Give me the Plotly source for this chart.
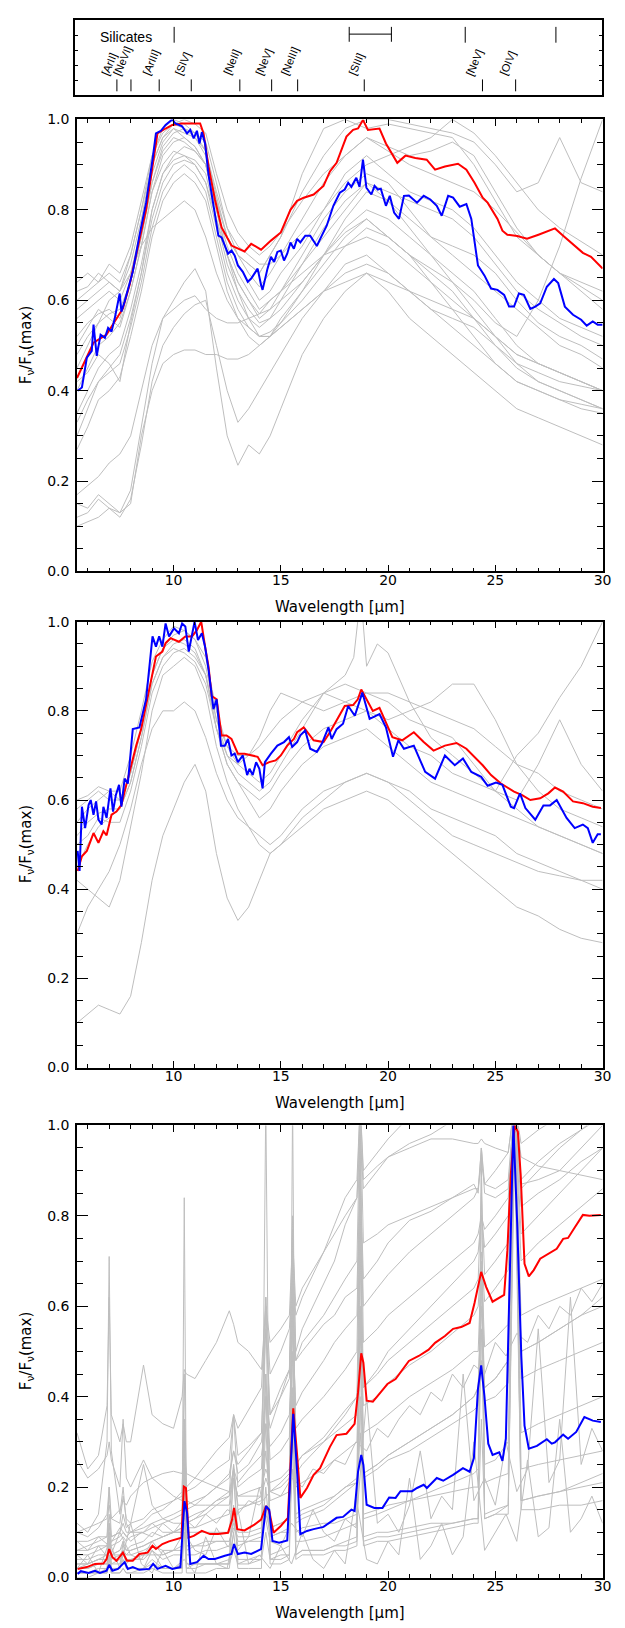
import plotly.graph_objects as go

W, H = 625, 1628

# ---------------- top box: line identifications ----------------
line_names = ["[ArII]", "[NeVI]", "[ArIII]", "[SIV]", "[NeII]", "[NeV]", "[NeIII]", "[SIII]", "[NeV]", "[OIV]"]
line_waves = [6.985, 7.652, 8.991, 10.511, 12.814, 14.322, 15.555, 18.713, 24.318, 25.890]
sil_label = "Silicates"
sil_ticks = [9.7, 23.5, 27.8]
sil_band = [18.0, 20.0]

# ---------------- panels 1 & 2: common grid for gray spectra ----------------
wl = [5.5, 6, 6.5, 7, 7.5, 8, 8.5, 9, 9.5, 10, 10.5, 11, 11.5, 12, 12.5, 13, 13.5, 14, 14.5, 15,
      16, 17, 18, 19, 20, 21, 22, 23, 24, 25, 26, 27, 28, 29, 30]

p1_gray = [
    [0.58,0.60,0.62,0.64,0.62,0.70,0.80,0.92,0.98,1.00,0.99,0.97,0.93,0.83,0.74,0.70,0.68,0.66,0.70,0.74,0.88,0.98,1.00,0.98,0.99,0.98,0.97,0.96,0.90,0.82,0.74,0.70,0.66,0.63,0.60],
    [0.52,0.55,0.57,0.58,0.56,0.64,0.74,0.86,0.94,0.97,0.98,0.97,0.95,0.86,0.76,0.70,0.66,0.63,0.66,0.70,0.78,0.86,0.92,0.96,0.94,0.92,0.93,0.95,0.92,0.84,0.76,0.70,0.66,0.62,0.58],
    [0.62,0.63,0.66,0.64,0.62,0.68,0.78,0.90,0.96,0.98,0.96,0.94,0.90,0.80,0.72,0.66,0.62,0.58,0.60,0.62,0.68,0.74,0.80,0.86,0.84,0.82,0.80,0.78,0.74,0.68,0.62,0.58,0.55,0.52,0.50],
    [0.48,0.52,0.55,0.57,0.58,0.64,0.74,0.86,0.93,0.96,0.95,0.93,0.90,0.80,0.70,0.64,0.60,0.57,0.58,0.60,0.64,0.70,0.75,0.78,0.74,0.70,0.67,0.64,0.60,0.55,0.52,0.60,0.72,0.87,1.00],
    [0.56,0.58,0.60,0.62,0.60,0.66,0.76,0.88,0.95,0.98,0.97,0.96,0.92,0.82,0.74,0.70,0.68,0.66,0.70,0.74,0.84,0.92,0.98,1.00,1.00,0.99,0.98,0.97,0.95,0.90,0.84,0.86,0.96,0.86,0.84],
    [0.40,0.45,0.50,0.52,0.55,0.62,0.72,0.84,0.90,0.93,0.92,0.90,0.86,0.78,0.70,0.64,0.60,0.56,0.58,0.62,0.70,0.78,0.84,0.88,0.86,0.80,0.74,0.70,0.66,0.62,0.58,0.54,0.50,0.48,0.45],
    [0.35,0.40,0.45,0.48,0.50,0.58,0.68,0.80,0.88,0.91,0.92,0.91,0.88,0.78,0.68,0.62,0.58,0.55,0.56,0.58,0.64,0.70,0.76,0.80,0.78,0.74,0.70,0.66,0.62,0.56,0.50,0.46,0.44,0.42,0.40],
    [0.30,0.36,0.42,0.44,0.46,0.54,0.64,0.76,0.84,0.88,0.90,0.88,0.84,0.74,0.64,0.58,0.54,0.52,0.53,0.55,0.60,0.66,0.72,0.76,0.74,0.70,0.66,0.62,0.56,0.50,0.45,0.42,0.40,0.38,0.36],
    [0.45,0.50,0.55,0.60,0.62,0.66,0.72,0.76,0.78,0.80,0.82,0.80,0.74,0.66,0.60,0.56,0.54,0.52,0.52,0.54,0.58,0.62,0.66,0.68,0.66,0.62,0.58,0.56,0.54,0.50,0.46,0.44,0.42,0.41,0.40],
    [0.15,0.14,0.17,0.15,0.13,0.18,0.32,0.46,0.56,0.60,0.64,0.67,0.62,0.45,0.30,0.235,0.28,0.26,0.30,0.36,0.48,0.56,0.62,0.66,0.62,0.56,0.52,0.48,0.44,0.40,0.36,0.34,0.32,0.30,0.28],
    [0.12,0.13,0.16,0.14,0.12,0.16,0.28,0.42,0.50,0.54,0.57,0.59,0.60,0.50,0.40,0.33,0.36,0.40,0.44,0.48,0.56,0.62,0.68,0.70,0.66,0.62,0.58,0.54,0.50,0.46,0.42,0.40,0.38,0.36,0.35],
    [0.10,0.11,0.12,0.14,0.13,0.15,0.30,0.40,0.46,0.48,0.49,0.49,0.48,0.48,0.47,0.47,0.48,0.50,0.52,0.54,0.58,0.62,0.64,0.66,0.64,0.62,0.60,0.58,0.56,0.52,0.48,0.46,0.44,0.42,0.40],
    [0.17,0.19,0.21,0.24,0.26,0.30,0.40,0.50,0.56,0.58,0.60,0.61,0.58,0.56,0.55,0.55,0.56,0.57,0.60,0.62,0.66,0.70,0.72,0.74,0.72,0.68,0.64,0.60,0.56,0.52,0.48,0.46,0.44,0.42,0.40],
    [0.42,0.44,0.48,0.46,0.42,0.55,0.66,0.80,0.88,0.92,0.94,0.93,0.90,0.80,0.70,0.62,0.56,0.52,0.52,0.55,0.62,0.70,0.78,0.84,0.82,0.78,0.74,0.72,0.70,0.66,0.60,0.55,0.52,0.50,0.47],
    [0.60,0.62,0.64,0.68,0.66,0.72,0.82,0.92,0.97,0.99,0.98,0.96,0.93,0.84,0.76,0.72,0.70,0.68,0.68,0.70,0.75,0.80,0.86,0.90,0.92,0.94,0.96,1.00,0.97,0.92,0.86,0.80,0.76,0.73,0.70],
    [0.50,0.54,0.58,0.56,0.54,0.62,0.72,0.84,0.92,0.95,0.96,0.94,0.90,0.82,0.74,0.68,0.64,0.60,0.62,0.66,0.72,0.80,0.88,0.92,0.88,0.84,0.82,0.80,0.76,0.70,0.64,0.60,0.56,0.54,0.52],
    [0.33,0.38,0.42,0.45,0.48,0.56,0.66,0.78,0.86,0.90,0.91,0.90,0.86,0.76,0.66,0.60,0.56,0.54,0.56,0.60,0.68,0.76,0.82,0.86,0.82,0.76,0.70,0.64,0.58,0.52,0.46,0.42,0.40,0.38,0.36],
    [0.27,0.32,0.38,0.40,0.43,0.52,0.62,0.74,0.82,0.86,0.88,0.86,0.82,0.72,0.62,0.56,0.52,0.50,0.52,0.56,0.62,0.68,0.74,0.78,0.74,0.70,0.64,0.58,0.52,0.46,0.42,0.40,0.38,0.37,0.36],
    [0.64,0.66,0.64,0.66,0.64,0.70,0.80,0.90,0.96,0.99,1.00,0.99,0.97,0.88,0.80,0.75,0.72,0.70,0.72,0.75,0.82,0.88,0.92,0.96,0.93,0.90,0.88,0.86,0.84,0.80,0.75,0.70,0.66,0.64,0.62],
]

p1_red_x = [5.5,5.8,6.27,6.88,7.34,7.64,7.95,8.41,8.72,9.02,9.25,9.63,9.94,10.4,10.63,11.24,11.4,11.63,11.93,12.24,
            12.7,13.31,13.62,14.08,14.54,15.0,15.45,15.76,16.07,16.53,16.99,17.29,17.6,18.06,18.37,18.6,18.83,19.06,19.6,19.9,
            20.43,20.81,21.27,21.8,22.19,22.65,23.26,23.65,24.03,24.41,24.64,25.1,25.33,25.56,26.02,26.48,27.01,27.4,27.78,28.16,
            28.62,29.08,29.46,30.0]
p1_red_y = [0.428,0.458,0.506,0.524,0.56,0.582,0.634,0.736,0.80,0.896,0.969,0.98,0.988,0.991,0.991,0.991,0.969,0.896,0.823,0.761,
            0.721,0.708,0.725,0.712,0.732,0.75,0.80,0.82,0.827,0.834,0.853,0.885,0.904,0.962,0.977,0.98,0.999,0.977,0.98,0.947,
            0.904,0.92,0.915,0.911,0.889,0.896,0.902,0.889,0.86,0.827,0.816,0.78,0.754,0.745,0.742,0.736,0.745,0.752,0.759,0.743,
            0.725,0.705,0.696,0.67]

p1_blue_x = [5.53,5.73,5.96,6.19,6.27,6.42,6.60,6.80,6.95,7.11,7.26,7.49,7.57,7.72,7.95,8.10,8.41,8.72,9.02,9.18,
             9.41,9.63,9.94,10.09,10.40,10.63,10.78,10.94,11.09,11.21,11.32,11.47,11.63,11.93,12.09,12.24,12.39,12.54,12.70,12.85,
             13.00,13.23,13.46,13.62,13.77,13.92,14.08,14.15,14.38,14.54,14.69,14.84,15.0,15.15,15.30,15.45,15.61,15.76,15.91,16.14,
             16.37,16.68,16.91,17.14,17.45,17.75,17.98,18.14,18.29,18.52,18.67,18.83,18.99,19.22,19.37,19.52,19.66,19.9,20.08,20.28,
             20.51,20.74,20.97,21.35,21.66,21.97,22.27,22.5,22.8,23.03,23.34,23.65,23.88,24.19,24.49,24.8,25.1,25.41,25.64,25.87,
             26.1,26.33,26.63,26.86,27.09,27.4,27.73,27.93,28.24,28.62,29.0,29.26,29.54,29.77,30.0]
p1_blue_y = [0.40,0.407,0.473,0.488,0.546,0.477,0.524,0.517,0.539,0.531,0.56,0.615,0.575,0.597,0.637,0.663,0.743,0.816,0.911,0.969,
             0.975,0.988,1.0,0.991,0.985,0.969,0.977,0.958,0.975,0.947,0.972,0.947,0.878,0.794,0.743,0.739,0.721,0.703,0.71,0.699,
             0.677,0.663,0.641,0.648,0.659,0.67,0.634,0.623,0.67,0.696,0.685,0.707,0.71,0.688,0.703,0.728,0.714,0.736,0.728,0.743,
             0.743,0.72,0.743,0.765,0.809,0.838,0.845,0.86,0.851,0.871,0.851,0.911,0.849,0.834,0.853,0.845,0.847,0.809,0.831,0.794,
             0.78,0.831,0.832,0.816,0.831,0.823,0.809,0.787,0.831,0.827,0.807,0.813,0.78,0.677,0.655,0.626,0.623,0.612,0.586,0.586,
             0.615,0.612,0.581,0.586,0.593,0.63,0.647,0.638,0.586,0.568,0.557,0.544,0.553,0.546,0.546]

p2_gray = [
    [0.60,0.61,0.63,0.62,0.62,0.70,0.80,0.91,0.96,0.99,0.98,0.96,0.90,0.78,0.72,0.70,0.70,0.72,0.75,0.78,0.82,0.84,0.82,0.80,0.76,0.72,0.70,0.66,0.64,0.62,0.70,0.75,0.83,0.90,1.00],
    [0.50,0.52,0.56,0.55,0.55,0.62,0.72,0.84,0.90,0.93,0.94,0.92,0.88,0.76,0.68,0.64,0.62,0.60,0.62,0.66,0.72,0.76,0.78,0.80,0.78,0.80,0.82,0.86,0.86,0.78,0.68,0.62,0.58,0.56,0.54],
    [0.30,0.36,0.40,0.44,0.50,0.58,0.68,0.76,0.80,0.80,0.82,0.80,0.74,0.66,0.60,0.56,0.54,0.52,0.50,0.52,0.58,0.62,0.64,0.66,0.64,0.62,0.58,0.56,0.54,0.52,0.48,0.46,0.44,0.42,0.40],
    [0.10,0.12,0.14,0.13,0.12,0.16,0.28,0.42,0.52,0.58,0.64,0.68,0.62,0.48,0.38,0.33,0.36,0.42,0.48,0.50,0.54,0.58,0.60,0.62,0.60,0.56,0.52,0.48,0.44,0.40,0.36,0.34,0.31,0.29,0.28],
    [0.42,0.40,0.38,0.36,0.42,0.54,0.66,0.80,0.88,0.90,0.92,0.90,0.84,0.72,0.64,0.58,0.54,0.50,0.48,0.50,0.56,0.60,0.64,0.66,0.64,0.60,0.56,0.52,0.50,0.48,0.46,0.44,0.43,0.42,0.42],
    [0.58,0.60,0.62,0.60,0.60,0.66,0.76,0.88,0.94,0.96,0.95,0.93,0.88,0.78,0.70,0.66,0.64,0.62,0.64,0.68,0.76,0.84,0.86,0.84,0.84,0.82,0.80,0.78,0.76,0.72,0.68,0.66,0.62,0.60,0.58],
    [0.52,0.55,0.57,0.58,0.58,0.64,0.74,0.86,0.92,0.94,0.93,0.91,0.86,0.76,0.68,0.64,0.60,0.56,0.58,0.62,0.68,0.72,0.74,0.76,0.72,0.68,0.64,0.62,0.60,0.58,0.56,0.54,0.52,0.50,0.48],
    [0.45,0.50,0.54,0.56,0.58,0.64,0.74,0.86,0.92,0.95,0.96,0.94,0.88,0.76,0.70,0.68,0.70,0.74,0.80,0.84,0.82,0.80,0.82,0.84,0.82,0.78,0.76,0.74,0.68,0.62,0.60,0.68,0.78,0.68,0.62],
]
# panel 2 spectrum with a narrow [SIII] 18.7 um peak (finer sampling)
wl2s = [5.5,6,6.5,7,7.5,8,8.5,9,9.5,10,10.5,11,11.5,12,12.5,13,13.5,14,14.5,15,
        16,17,18,18.4,18.6,18.7,18.8,19.0,19.5,20,21,22,23,24,25,26,27,28,29,30]
p2_sharp = [0.55,0.58,0.60,0.62,0.60,0.66,0.76,0.88,0.94,0.97,0.98,0.96,0.92,0.80,0.72,0.68,0.66,0.64,0.66,0.70,
            0.78,0.84,0.88,0.92,1.02,1.05,1.02,0.90,0.95,0.93,0.82,0.74,0.70,0.66,0.62,0.58,0.54,0.52,0.50,0.48]

p2_red_x = [5.53,5.73,5.96,6.27,6.50,6.73,6.88,7.11,7.34,7.57,7.80,8.03,8.26,8.49,8.72,8.95,9.18,9.48,9.63,9.86,
            10.25,10.55,10.86,11.09,11.29,11.47,11.63,11.78,12.01,12.24,12.47,12.70,13.00,13.31,13.62,13.92,14.15,14.46,14.76,15.0,
            15.30,15.61,15.76,16.07,16.53,16.99,17.29,17.6,17.98,18.37,18.59,18.75,18.99,19.29,19.6,19.9,20.2,20.66,21.2,21.66,
            22.12,22.65,23.19,23.65,24.03,24.41,24.8,25.26,25.87,26.25,26.63,27.09,27.47,27.78,28.16,28.62,29.08,29.54,29.92]
p2_red_y = [0.441,0.474,0.486,0.526,0.504,0.53,0.521,0.567,0.574,0.589,0.634,0.678,0.722,0.759,0.811,0.863,0.922,0.933,0.952,0.963,
            0.955,0.967,0.967,0.981,1.0,0.944,0.9,0.833,0.826,0.745,0.745,0.737,0.704,0.704,0.70,0.697,0.678,0.685,0.689,0.70,
            0.722,0.737,0.752,0.763,0.734,0.73,0.752,0.778,0.811,0.813,0.826,0.848,0.826,0.80,0.807,0.774,0.741,0.734,0.752,0.73,
            0.711,0.722,0.728,0.715,0.697,0.678,0.656,0.637,0.619,0.611,0.60,0.604,0.615,0.628,0.619,0.597,0.593,0.585,0.582]

p2_blue_x = [5.53,5.62,5.73,5.88,6.04,6.14,6.27,6.39,6.50,6.65,6.73,6.88,7.06,7.18,7.31,7.46,7.57,7.72,7.87,8.10,
             8.41,8.72,9.02,9.18,9.33,9.48,9.63,9.79,10.02,10.25,10.40,10.55,10.71,10.86,10.98,11.14,11.32,11.47,11.63,11.86,
             12.01,12.21,12.39,12.54,12.70,12.85,13.00,13.23,13.43,13.54,13.69,13.85,14.00,14.15,14.26,14.54,14.84,15.15,15.38,15.53,
             15.76,15.91,16.14,16.37,16.68,16.91,17.22,17.37,17.6,17.9,18.14,18.45,18.80,19.14,19.6,19.9,20.23,20.48,20.74,21.2,
             21.73,22.19,22.65,23.11,23.49,23.88,24.34,24.64,25.03,25.33,25.72,25.87,26.15,26.40,26.86,27.24,27.55,27.86,28.32,28.70,
             29.08,29.31,29.54,29.77,29.92]
p2_blue_y = [0.486,0.441,0.585,0.537,0.589,0.60,0.567,0.597,0.556,0.545,0.585,0.56,0.626,0.574,0.611,0.634,0.585,0.648,0.637,0.759,
             0.763,0.826,0.967,0.944,0.967,0.944,0.996,0.967,0.985,0.974,0.996,0.989,0.933,0.974,1.0,0.959,0.974,0.944,0.893,0.804,
             0.826,0.722,0.722,0.737,0.70,0.704,0.685,0.70,0.656,0.67,0.656,0.685,0.67,0.626,0.685,0.704,0.722,0.73,0.741,0.719,
             0.73,0.745,0.756,0.715,0.708,0.726,0.763,0.737,0.759,0.771,0.811,0.789,0.841,0.782,0.793,0.763,0.697,0.734,0.715,0.722,
             0.663,0.648,0.70,0.678,0.693,0.663,0.652,0.632,0.639,0.634,0.585,0.582,0.615,0.582,0.556,0.588,0.588,0.60,0.56,0.537,
             0.545,0.537,0.504,0.523,0.523]

# ---------------- panel 3: grid with emission-line positions ----------------
wl3 = [5.5,6.0,6.5,6.9,7.0,7.1,7.5,7.65,7.8,8.0,
       8.6,9.0,9.5,10.0,10.4,10.5,10.6,11.0,11.5,12.0,
       12.6,12.8,13.0,13.5,14.1,14.3,14.5,15.0,15.4,15.55,
       15.7,16.0,17.0,17.5,18.0,18.55,18.7,18.85,19.5,20.0,
       21.0,22.0,23.0,24.0,24.2,24.35,24.5,25.0,25.6,25.9,
       26.2,27.0,28.0,29.0,30.0]

p3_gray = [
    [0.32,0.24,0.27,0.38,0.62,0.36,0.30,0.34,0.30,0.30, 0.47,0.36,0.34,0.33,0.40,0.46,0.45,0.44,0.48,0.52,
     0.59,0.56,0.52,0.50,0.46,0.60,0.52,0.55,0.58,0.75, 0.60,0.64,0.72,0.76,0.80,0.84,0.98,0.86,0.90,0.93,
     0.96,0.98,1.01,1.04,1.05,1.06,1.06,1.08,1.10,1.15, 1.10,1.12,1.14,1.16,1.18],
    [0.08,0.08,0.09,0.09,0.14,0.09,0.10,0.12,0.10,0.10, 0.11,0.12,0.13,0.14,0.15,0.30,0.16,0.17,0.18,0.20,
     0.22,0.28,0.23,0.25,0.30,0.40,0.33,0.40,0.46,0.80, 0.50,0.55,0.65,0.70,0.78,0.84,1.05,0.88,0.91,0.93,
     0.95,0.97,0.97,0.96,0.96,0.97,0.96,0.95,0.94,1.05, 0.93,0.91,0.90,0.89,0.88],
    [0.06,0.07,0.08,0.09,0.20,0.09,0.10,0.14,0.11,0.12, 0.13,0.15,0.16,0.17,0.18,0.45,0.19,0.20,0.22,0.24,
     0.26,0.36,0.27,0.29,0.32,0.55,0.36,0.40,0.44,0.77, 0.48,0.52,0.58,0.62,0.66,0.70,1.05,0.74,0.76,0.78,
     0.80,0.82,0.84,0.86,0.86,0.92,0.87,0.86,0.88,1.05, 0.88,0.92,0.96,0.99,1.02],
    [0.05,0.05,0.06,0.07,0.10,0.07,0.08,0.09,0.08,0.09, 0.10,0.11,0.12,0.13,0.14,0.22,0.15,0.16,0.18,0.20,
     0.23,0.28,0.25,0.28,0.32,0.60,0.36,0.42,0.46,0.62, 0.48,0.50,0.56,0.58,0.62,0.64,0.90,0.66,0.70,0.74,
     0.79,0.81,0.84,0.87,0.85,0.95,0.85,0.84,0.86,1.05, 0.87,0.88,0.90,0.95,1.00],
    [0.04,0.04,0.05,0.05,0.08,0.05,0.06,0.07,0.06,0.06, 0.07,0.08,0.09,0.10,0.11,0.84,0.12,0.13,0.14,0.16,
     0.18,0.36,0.20,0.22,0.24,0.45,0.26,0.28,0.31,0.60, 0.33,0.35,0.40,0.43,0.46,0.50,0.96,0.52,0.55,0.58,
     0.62,0.66,0.70,0.74,0.76,0.80,0.77,0.80,0.84,1.05, 0.86,0.90,0.95,0.99,1.03],
    [0.10,0.11,0.12,0.13,0.16,0.13,0.15,0.17,0.16,0.18, 0.21,0.22,0.23,0.235,0.23,0.27,0.23,0.22,0.21,0.20,
     0.19,0.22,0.18,0.18,0.18,0.22,0.19,0.20,0.22,0.30, 0.23,0.25,0.30,0.33,0.36,0.40,0.55,0.42,0.46,0.50,
     0.55,0.60,0.65,0.70,0.72,0.80,0.73,0.76,0.80,1.05, 0.82,0.85,0.88,0.92,0.95],
    [0.02,0.02,0.03,0.03,0.09,0.03,0.03,0.06,0.03,0.04, 0.04,0.06,0.04,0.05,0.05,0.25,0.05,0.05,0.06,0.06,
     0.07,0.13,0.07,0.08,0.08,0.20,0.09,0.10,0.11,0.50, 0.12,0.13,0.15,0.17,0.19,0.21,0.60,0.23,0.25,0.27,
     0.30,0.33,0.36,0.40,0.42,0.65,0.42,0.44,0.48,1.05, 0.50,0.52,0.55,0.58,0.62],
    [0.01,0.01,0.01,0.02,0.05,0.02,0.02,0.04,0.02,0.02, 0.02,0.04,0.02,0.02,0.03,0.30,0.03,0.03,0.03,0.03,
     0.04,0.16,0.04,0.04,0.05,0.45,0.05,0.06,0.07,0.75, 0.08,0.08,0.09,0.10,0.11,0.12,0.75,0.13,0.14,0.15,
     0.17,0.19,0.21,0.23,0.24,0.90,0.25,0.26,0.30,1.05, 0.32,0.34,0.36,0.38,0.40],
    [0.00,0.00,0.01,0.01,0.04,0.01,0.01,0.02,0.01,0.01, 0.01,0.02,0.01,0.01,0.01,0.20,0.01,0.01,0.01,0.02,
     0.02,0.10,0.02,0.02,0.02,1.05,0.03,0.03,0.04,1.05, 0.04,0.05,0.05,0.06,0.06,0.07,1.05,0.07,0.08,0.08,
     0.09,0.10,0.11,0.12,0.12,0.95,0.13,0.14,0.16,1.05, 0.17,0.18,0.19,0.20,0.21],
    [0.02,0.03,0.04,0.05,0.12,0.05,0.06,0.08,0.06,0.07, 0.08,0.10,0.09,0.10,0.10,0.28,0.11,0.11,0.12,0.13,
     0.14,0.24,0.15,0.16,0.18,0.40,0.19,0.21,0.23,0.72, 0.25,0.27,0.31,0.34,0.37,0.40,0.85,0.42,0.45,0.48,
     0.52,0.56,0.60,0.64,0.66,0.85,0.67,0.70,0.74,1.05, 0.76,0.80,0.85,0.90,0.95],
    [0.03,0.03,0.04,0.04,0.06,0.04,0.05,0.06,0.05,0.05, 0.06,0.07,0.06,0.06,0.07,0.18,0.07,0.07,0.08,0.08,
     0.08,0.12,0.08,0.08,0.09,0.16,0.09,0.10,0.10,0.40, 0.10,0.11,0.12,0.12,0.13,0.14,0.50,0.14,0.15,0.16,
     0.17,0.18,0.19,0.20,0.20,0.55,0.21,0.22,0.23,1.05, 0.24,0.25,0.26,0.27,0.28],
    [0.12,0.10,0.14,0.30,0.71,0.28,0.14,0.20,0.12,0.10, 0.10,0.12,0.10,0.10,0.10,0.26,0.10,0.10,0.10,0.10,
     0.10,0.22,0.10,0.10,0.11,0.34,0.11,0.12,0.13,0.60, 0.13,0.14,0.16,0.18,0.20,0.22,0.80,0.23,0.25,0.27,
     0.30,0.33,0.36,0.40,0.42,0.60,0.42,0.44,0.48,1.05, 0.50,0.52,0.55,0.58,0.60],
    [0.26,0.22,0.24,0.27,0.30,0.26,0.20,0.35,0.22,0.20, 0.26,0.22,0.20,0.18,0.17,0.30,0.17,0.16,0.16,0.16,
     0.16,0.25,0.16,0.16,0.17,0.28,0.17,0.18,0.19,0.42, 0.20,0.21,0.24,0.26,0.28,0.30,0.60,0.32,0.34,0.36,
     0.40,0.43,0.46,0.50,0.50,0.70,0.51,0.53,0.56,1.05, 0.58,0.60,0.62,0.64,0.66],
    [0.01,0.01,0.02,0.02,0.10,0.02,0.02,0.08,0.02,0.02, 0.02,0.06,0.02,0.02,0.02,0.35,0.02,0.03,0.03,0.03,
     0.03,0.25,0.03,0.03,0.04,0.62,0.04,0.04,0.05,0.68, 0.05,0.06,0.06,0.07,0.08,0.09,0.98,0.09,0.10,0.10,
     0.11,0.12,0.12,0.13,0.13,0.70,0.13,0.14,0.14,1.05, 0.15,0.15,0.16,0.16,0.17],
    [0.03,0.03,0.04,0.04,0.08,0.05,0.05,0.06,0.05,0.06, 0.07,0.08,0.09,0.10,0.11,0.22,0.12,0.13,0.15,0.17,
     0.19,0.24,0.21,0.24,0.27,0.34,0.29,0.32,0.36,0.55, 0.38,0.41,0.48,0.52,0.55,0.58,0.90,0.60,0.64,0.67,
     0.72,0.76,0.80,0.84,0.86,0.95,0.87,0.90,0.94,1.05, 0.96,0.99,1.02,1.05,1.08],
    [0.02,0.02,0.03,0.03,0.05,0.03,0.04,0.05,0.04,0.04, 0.05,0.05,0.05,0.06,0.06,0.12,0.06,0.07,0.07,0.08,
     0.08,0.11,0.09,0.09,0.10,0.14,0.11,0.12,0.13,0.24, 0.14,0.15,0.17,0.18,0.20,0.21,0.32,0.22,0.24,0.26,
     0.28,0.31,0.34,0.37,0.38,0.48,0.39,0.40,0.43,1.05, 0.44,0.46,0.48,0.50,0.52],
    [0.01,0.01,0.01,0.01,0.03,0.01,0.01,0.02,0.01,0.01, 0.02,0.03,0.02,0.02,0.02,0.10,0.02,0.02,0.03,0.03,
     0.03,0.06,0.03,0.04,0.04,0.10,0.04,0.05,0.05,0.30, 0.05,0.06,0.06,0.07,0.07,0.08,0.40,0.08,0.09,0.09,
     0.10,0.11,0.12,0.13,0.13,0.35,0.14,0.15,0.16,0.95, 0.17,0.18,0.19,0.21,0.23],
    [0.06,0.06,0.07,0.07,0.12,0.08,0.09,0.10,0.09,0.10, 0.12,0.14,0.15,0.17,0.19,0.35,0.20,0.22,0.25,0.28,
     0.31,0.36,0.33,0.37,0.42,0.62,0.45,0.50,0.55,0.68, 0.58,0.62,0.72,0.78,0.84,0.88,1.05,0.90,0.94,0.97,
     1.02,1.06,1.08,1.10,1.10,1.12,1.10,1.10,1.12,1.15, 1.12,1.12,1.12,1.12,1.12],
    [0.10,0.09,0.11,0.14,0.20,0.13,0.12,0.18,0.13,0.12, 0.25,0.16,0.13,0.12,0.12,0.25,0.13,0.14,0.15,0.17,
     0.18,0.22,0.18,0.19,0.20,0.24,0.21,0.22,0.24,0.40, 0.25,0.27,0.30,0.32,0.34,0.36,0.55,0.38,0.40,0.43,
     0.47,0.50,0.54,0.58,0.60,0.72,0.61,0.64,0.68,1.05, 0.70,0.74,0.78,0.82,0.86],
]

# noisy low-flux spectra of panel 3 (half-micron sampling)
wl3n = [5.5,6.0,6.5,7.0,7.5,8.0,8.5,9.0,9.5,10.0, 10.5,11.0,11.5,12.0,12.5,13.0,13.5,14.0,14.5,15.0,
        15.5,16.0,16.5,17.0,17.5,18.0,18.5,19.0,19.5,20.0, 20.5,21.0,21.5,22.0,22.5,23.0,23.5,24.0,24.5,25.0,
        25.5,26.0,26.5,27.0,27.5,28.0,28.5,29.0,29.5,30.0]
p3_noisy = [
    [0.02,0.05,0.01,0.08,0.02,0.12,0.03,0.01,0.06,0.02, 0.04,0.01,0.09,0.03,0.02,0.15,0.03,0.05,0.02,0.07,
     0.03,0.10,0.04,0.02,0.06,0.03,0.18,0.04,0.03,0.08, 0.05,0.22,0.04,0.07,0.12,0.05,0.09,0.30,0.06,0.10,
     0.14,0.08,0.26,0.09,0.11,0.35,0.10,0.13,0.18,0.12],
    [0.05,0.03,0.07,0.04,0.10,0.05,0.04,0.08,0.05,0.06, 0.10,0.06,0.05,0.11,0.07,0.06,0.09,0.20,0.08,0.07,
     0.12,0.09,0.15,0.10,0.08,0.13,0.11,0.40,0.12,0.14, 0.10,0.16,0.28,0.13,0.18,0.15,0.45,0.17,0.22,0.16,
     0.30,0.19,0.24,0.55,0.21,0.26,0.62,0.25,0.33,0.28],
    [0.08,0.06,0.09,0.07,0.11,0.08,0.10,0.09,0.12,0.10, 0.13,0.11,0.14,0.12,0.15,0.14,0.17,0.16,0.19,0.18,
     0.22,0.20,0.24,0.23,0.26,0.25,0.30,0.28,0.33,0.31, 0.35,0.38,0.36,0.41,0.39,0.45,0.42,0.47,0.45,0.52,
     0.49,0.54,0.52,0.58,0.55,0.60,0.58,0.64,0.61,0.65],
]

p3_red_x = [5.53,5.96,6.34,6.73,6.88,7.0,7.15,7.34,7.64,7.83,8.10,8.41,8.79,9.02,9.18,9.48,9.79,10.25,10.37,10.48,
            10.58,10.71,10.94,11.32,11.70,12.08,12.54,12.73,12.82,12.97,13.31,13.77,14.08,14.31,14.46,14.66,15.0,15.33,15.58,15.76,
            15.91,16.22,16.53,16.83,17.29,17.6,18.06,18.44,18.6,18.75,18.85,19.0,19.29,19.66,19.97,20.35,20.66,20.97,21.43,21.89,
            22.19,22.65,23.03,23.41,23.8,24.03,24.34,24.57,24.87,25.18,25.41,25.56,25.72,25.9,26.05,26.18,26.36,26.56,26.79,27.09,
            27.47,27.86,28.16,28.39,28.7,29.08,29.39,29.92]
p3_red_y = [0.019,0.023,0.03,0.031,0.041,0.063,0.045,0.037,0.055,0.037,0.037,0.052,0.055,0.07,0.063,0.074,0.08,0.085,0.088,0.201,
            0.198,0.088,0.092,0.103,0.096,0.096,0.099,0.128,0.154,0.107,0.104,0.117,0.128,0.158,0.147,0.099,0.114,0.132,0.374,0.271,
            0.176,0.198,0.227,0.242,0.289,0.315,0.318,0.34,0.41,0.496,0.475,0.391,0.389,0.41,0.428,0.439,0.459,0.479,0.49,0.504,
            0.519,0.534,0.55,0.554,0.563,0.607,0.676,0.643,0.61,0.618,0.625,0.723,0.891,1.0,0.986,0.891,0.694,0.666,0.68,0.705,
            0.716,0.727,0.749,0.751,0.774,0.802,0.80,0.802]

p3_blue_x = [5.53,5.68,6.04,6.34,6.57,6.88,7.0,7.15,7.41,7.72,7.87,8.10,8.41,8.87,9.05,9.25,9.63,9.94,10.32,10.51,
             10.63,10.78,11.09,11.40,11.63,11.93,12.39,12.70,12.82,13.0,13.31,13.62,14.08,14.31,14.46,14.61,14.92,15.30,15.58,15.76,
             15.91,16.22,16.53,16.99,17.6,17.9,18.29,18.44,18.6,18.75,18.85,19.0,19.36,19.74,20.05,20.35,20.58,21.12,21.35,21.66,
             21.81,22.27,22.57,23.03,23.49,23.8,24.0,24.19,24.34,24.49,24.67,24.87,25.18,25.33,25.49,25.64,25.84,26.02,26.21,26.36,
             26.56,26.94,27.4,27.63,27.78,28.16,28.39,28.77,29.15,29.54,29.92]
p3_blue_y = [0.008,0.014,0.01,0.015,0.01,0.015,0.028,0.015,0.019,0.034,0.019,0.023,0.017,0.019,0.03,0.019,0.026,0.019,0.023,0.169,
             0.143,0.03,0.034,0.048,0.041,0.041,0.048,0.052,0.074,0.052,0.055,0.052,0.063,0.158,0.15,0.081,0.077,0.082,0.362,0.234,
             0.096,0.103,0.107,0.112,0.132,0.134,0.15,0.147,0.234,0.271,0.249,0.161,0.154,0.154,0.177,0.176,0.191,0.191,0.198,0.205,
             0.198,0.22,0.214,0.227,0.242,0.234,0.264,0.417,0.469,0.402,0.296,0.271,0.277,0.258,0.307,0.636,1.0,0.782,0.49,0.336,
             0.285,0.291,0.306,0.296,0.299,0.316,0.307,0.322,0.355,0.347,0.344]

# ---------------- styling ----------------
GRAY = "rgb(190,190,190)"
RED = "rgb(255,0,0)"
BLUE = "rgb(0,0,255)"
FONT = "DejaVu Sans"

fig = go.Figure()

def add(x, y, color, width, n):
    fig.add_trace(go.Scatter(x=x, y=y, mode="lines", line=dict(color=color, width=width),
                             xaxis="x" if n == 1 else f"x{n}", yaxis="y" if n == 1 else f"y{n}",
                             showlegend=False, hoverinfo="skip"))

for g in p1_gray:
    add(wl, g, GRAY, 1, 1)
add(p1_red_x, p1_red_y, RED, 2, 1)
add(p1_blue_x, p1_blue_y, BLUE, 2, 1)

for g in p2_gray:
    add(wl, g, GRAY, 1, 2)
add(wl2s, p2_sharp, GRAY, 1, 2)
add(p2_red_x, p2_red_y, RED, 2, 2)
add(p2_blue_x, p2_blue_y, BLUE, 2, 2)

for g in p3_gray:
    add(wl3, g, GRAY, 1, 3)
for g in p3_noisy:
    add(wl3n, g, GRAY, 1, 3)
add(p3_red_x, p3_red_y, RED, 2, 3)
add(p3_blue_x, p3_blue_y, BLUE, 2, 3)

# invisible trace so the top box axes are drawn
fig.add_trace(go.Scatter(x=[5, 30], y=[0, 5], mode="markers", marker=dict(opacity=0),
                         xaxis="x4", yaxis="y4", showlegend=False, hoverinfo="skip"))

def px2fx(px):
    return px / W

def py2fy(py):
    return 1 - py / H

x_left, x_right = 70, 603.3
panels = [(104.5, 561), (611.7, 1062), (1120.4, 1577)]

def xaxis_style(n):
    return dict(domain=[px2fx(x_left), px2fx(x_right)], range=[5.5, 30], anchor="y" if n == 1 else f"y{n}",
                tick0=0, dtick=5, ticks="inside", ticklen=7, tickwidth=1, tickcolor="black",
                showline=True, linecolor="black", linewidth=1.5, mirror="ticks",
                showgrid=False, zeroline=False,
                minor=dict(tick0=0, dtick=1, ticks="inside", ticklen=4, tickwidth=1, tickcolor="black", showgrid=False),
                tickfont=dict(family=FONT, size=14, color="black"), ticklabelstandoff=-5)

def yaxis_style(n, top, bottom):
    return dict(domain=[py2fy(bottom), py2fy(top)], range=[0, 1.0], anchor="x" if n == 1 else f"x{n}",
                tick0=0, dtick=0.2, tickformat=".1f", ticks="inside", ticklen=11, tickwidth=1, tickcolor="black",
                showline=True, linecolor="black", linewidth=1.5, mirror="ticks",
                showgrid=False, zeroline=False,
                minor=dict(tick0=0, dtick=0.05, ticks="inside", ticklen=6, tickwidth=1, tickcolor="black", showgrid=False),
                tickfont=dict(family=FONT, size=14, color="black"), ticklabelstandoff=3)

layout = dict(width=W, height=H, margin=dict(l=0, r=0, t=0, b=0),
              paper_bgcolor="white", plot_bgcolor="white", showlegend=False)
for i, (top, bottom) in enumerate(panels, start=1):
    kx = "xaxis" if i == 1 else f"xaxis{i}"
    ky = "yaxis" if i == 1 else f"yaxis{i}"
    layout[kx] = xaxis_style(i)
    layout[ky] = yaxis_style(i, top, bottom)

box_top, box_bottom = 4, 80
px_per_unit = (box_bottom - box_top) / 5.0
layout["xaxis4"] = dict(domain=[px2fx(68), px2fx(603)], range=[5, 30], anchor="y4",
                        showline=True, linecolor="black", linewidth=2, mirror=True,
                        ticks="", showticklabels=False, showgrid=False, zeroline=False)
layout["yaxis4"] = dict(domain=[py2fy(box_bottom), py2fy(box_top)], range=[0, 5], anchor="x4",
                        tickvals=[1, 2, 3, 4], ticks="inside", ticklen=3, tickcolor="black",
                        showline=True, linecolor="black", linewidth=2, mirror="ticks",
                        showticklabels=False, showgrid=False, zeroline=False)
fig.update_layout(**layout)

shapes = []
annotations = []
# silicate feature markers
for w in sil_ticks:
    shapes.append(dict(type="line", xref="x4", yref="y4", x0=w, x1=w, y0=3.49, y1=4.54,
                       line=dict(color="black", width=1)))
for w in sil_band:
    shapes.append(dict(type="line", xref="x4", yref="y4", x0=w, x1=w, y0=3.55, y1=4.54,
                       line=dict(color="black", width=1)))
shapes.append(dict(type="line", xref="x4", yref="y4", x0=sil_band[0], x1=sil_band[1], y0=4.06, y1=4.06,
                   line=dict(color="black", width=1)))
annotations.append(dict(text=sil_label, xref="x4", yref="y4", x=7.43, y=3.84, showarrow=False,
                        xanchor="center", yanchor="middle",
                        font=dict(family="Liberation Sans", size=14, color="black")))

# emission line markers (rotated labels; label length estimated from Arial glyph widths)
glyph_em = {"[": 0.278, "]": 0.278, "A": 0.667, "r": 0.333, "I": 0.278, "N": 0.722,
            "e": 0.556, "V": 0.667, "S": 0.667, "O": 0.778}
LAB_SIZE = 11
ANG = 67
for name, w in zip(line_names, line_waves):
    shapes.append(dict(type="line", xref="x4", yref="y4", x0=w, x1=w, y0=0.26, y1=1.05,
                       line=dict(color="black", width=1)))
    L = LAB_SIZE * sum(glyph_em.get(c, 0.55) for c in name)
    half_v = 0.5 * (L * 0.92 + LAB_SIZE * 0.39)
    cy = 61 - half_v
    annotations.append(dict(text=name, xref="x4", yref="y4", x=w, y=(box_bottom - cy) / px_per_unit,
                            xshift=-8, showarrow=False, textangle=-ANG, xanchor="center", yanchor="middle",
                            font=dict(family="Liberation Sans", size=LAB_SIZE, color="black")))

# axis titles
for top, bottom in panels:
    annotations.append(dict(text="Wavelength [\u03bcm]", xref="paper", yref="paper",
                            x=px2fx((x_left + x_right) / 2), y=py2fy(bottom + 36), showarrow=False,
                            xanchor="center", yanchor="middle",
                            font=dict(family=FONT, size=15, color="black")))
    annotations.append(dict(text="F<sub>\u03bd</sub>/F<sub>\u03bd</sub>(max)", xref="paper", yref="paper",
                            x=px2fx(19), y=py2fy((top + bottom) / 2), showarrow=False, textangle=-90,
                            xanchor="center", yanchor="middle",
                            font=dict(family=FONT, size=15, color="black")))

fig.update_layout(shapes=shapes, annotations=annotations)
fig.write_html("out.html")
